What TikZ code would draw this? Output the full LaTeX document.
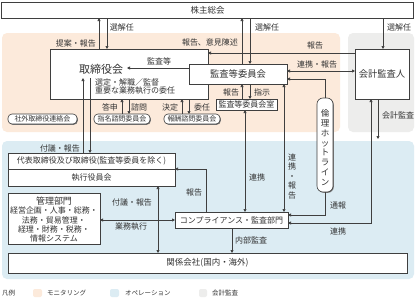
\documentclass[tikz,border=0pt]{standalone}
\usepackage{fontspec}
\setmainfont{Noto Sans CJK JP}
\usetikzlibrary{arrows.meta,shadows}
\definecolor{orgbg}{HTML}{FCEADB}
\definecolor{blubg}{HTML}{DCECF3}
\definecolor{grybg}{HTML}{EDEDEC}
\definecolor{linec}{HTML}{3F3F3F}
\definecolor{txt}{HTML}{333333}
\tikzset{
  box/.style={draw=linec, line width=0.6pt, fill=white, inner sep=0pt, outer sep=0pt,
    general shadow={fill=black!55, shadow xshift=0.8pt, shadow yshift=-0.8pt},
    font=\fontsize{8}{9.6}\selectfont, text=txt},
  rbox/.style={box, rounded corners=4pt, font=\fontsize{7}{8}\selectfont},
  lbl/.style={font=\fontsize{8}{9.6}\selectfont, text=txt, inner sep=0pt},
  leg/.style={font=\fontsize{6.5}{7.5}\selectfont, text=txt, inner sep=0pt, anchor=west},
  region/.style={rounded corners=5pt, draw=none},
  ar/.style={draw=linec, line width=0.7pt, -{Triangle[length=3pt,width=3pt]}},
  dar/.style={draw=linec, line width=0.7pt, {Triangle[length=3pt,width=3pt]}-{Triangle[length=3pt,width=3pt]}},
  ln/.style={draw=linec, line width=0.7pt}
}
\begin{document}
\begin{tikzpicture}[x=1pt,y=-1pt]
\useasboundingbox[fill=white] (0,0) rectangle (416,303);
% regions
\fill[orgbg, region] (2,33) rectangle (340,132);
\fill[grybg, region] (348,33) rectangle (414,132);
\fill[blubg, region] (2,141) rectangle (414,279);

% boxes
\node[box, minimum width=412pt, minimum height=16pt, font=\fontsize{8.5}{10}\selectfont] (kabu) at (207.5,10) {株主総会};
\node[box, minimum width=158pt, minimum height=50pt] (bod) at (129,74) {};
\node[lbl, font=\fontsize{11}{13}\selectfont] (bodt) at (101,69) {取締役会};
\node[lbl, anchor=west] (bodl1) at (95,82) {選定・解職／監督};
\node[lbl, anchor=west] (bodl2) at (95,91) {重要な業務執行の委任};
\node[box, minimum width=98pt, minimum height=20pt, font=\fontsize{9.3}{11}\selectfont] (ac) at (238,74) {監査等委員会};
\node[box, minimum width=54pt, minimum height=50pt, font=\fontsize{9.3}{11}\selectfont] (ca) at (382,74) {会計監査人};
\node[box, minimum width=61pt, minimum height=11pt] (acr) at (246.5,104.5) {監査等委員会室};
\node[rbox, minimum width=69pt, minimum height=10pt] (ext) at (42.5,119) {社外取締役連絡会};
\node[rbox, minimum width=56pt, minimum height=10pt] (nom) at (122,119) {指名諮問委員会};
\node[rbox, minimum width=56pt, minimum height=10pt] (rem) at (192,119) {報酬諮問委員会};
\node[box, rounded corners=6pt, minimum width=16pt, minimum height=94pt] (hot) at (325,145) {};
\node[lbl, align=center, font=\fontsize{8.5}{9.9}\selectfont] (hott) at (325,147.5) {倫\\理\\ホ\\ッ\\ト\\ラ\\イ\\ン};
\node[box, minimum width=167pt, minimum height=33pt] (rep) at (91.5,169.5) {};
\draw[ln] (rep.west |- 0,169) -- (rep.east |- 0,169);
\node[lbl] (rept1) at (91.5,161) {代表取締役及び取締役(監査等委員を除く)};
\node[lbl] (rept2) at (91.5,177.5) {執行役員会};
\node[box, minimum width=92pt, minimum height=51pt] (mgmt) at (54,218.5) {};
\node[lbl, font=\fontsize{9}{10}\selectfont] (mg0) at (54,201) {管理部門};
\node[lbl] (mg1) at (54,210.5) {経営企画・人事・総務・};
\node[lbl] (mg2) at (54,220) {法務・貿易管理・};
\node[lbl] (mg3) at (54,229) {経理・財務・税務・};
\node[lbl] (mg4) at (54,238) {情報システム};
\node[box, minimum width=113pt, minimum height=16pt] (comp) at (231.5,220) {コンプライアンス・監査部門};
\node[box, minimum width=399pt, minimum height=20pt, font=\fontsize{8.5}{10}\selectfont] (aff) at (207.5,263) {関係会社(国内・海外)};

% free-end coordinates
\coordinate (bodtxt) at (127,68);
\coordinate (bodin1) at (83,78);
\coordinate (bodin2) at (90,78);
\coordinate (opsarea) at (378,139);

% arrows shareholders
\draw[ar] (99,0 |- bod.north) -- (99,0 |- kabu.south);
\draw[ar] (107,0 |- kabu.south) -- (107,0 |- bod.north);
\node[lbl] at (76,43) {提案・報告};
\node[lbl] at (122,27) {選解任};
\draw[ar] (242,0 |- ac.north) -- (242,0 |- kabu.south);
\draw[ar] (250,0 |- kabu.south) -- (250,0 |- ac.north);
\node[lbl] at (210,42) {報告、意見陳述};
\node[lbl] at (267,27) {選解任};
\draw[ar] (383,0 |- kabu.south) -- (383,0 |- ca.north);
\node[lbl] at (399,27) {選解任};

% accounting auditor links
\draw[ar] (ca.west |- 0,53) -- (bod.east |- 0,53);
\node[lbl] at (315,45) {報告};
\draw[dar] (ac.east |- 0,71) -- (ca.west |- 0,71);
\node[lbl] at (317,64) {連携・報告};
\draw[ar] (hot.north) -- (325,79) -- (ac.east |- 0,79);
\draw[ar] (ac.west |- 0,68) -- (bodtxt);
\node[lbl] at (159,61) {監査等};

% committees
\draw[ar] (122,0 |- nom.north) -- (122,0 |- bod.south);
\draw[ar] (129,0 |- bod.south) -- (129,0 |- nom.north);
\node[lbl] at (110,107) {答申};
\node[lbl] at (139,107) {諮問};
\draw[ar] (182,0 |- rem.north) -- (182,0 |- bod.south);
\draw[ar] (189,0 |- bod.south) -- (189,0 |- rem.north);
\node[lbl] at (170,107) {決定};
\node[lbl] at (202,107) {委任};
\draw[ar] (242,0 |- acr.north) -- (242,0 |- ac.south);
\draw[ar] (250,0 |- ac.south) -- (250,0 |- acr.north);
\node[lbl] at (231,92) {報告};
\node[lbl] at (262,92) {指示};

% to compliance
\draw[dar] (245,0 |- acr.south) -- (245,0 |- comp.north);
\node[lbl] at (257,177) {連携};
\draw[dar] (284,0 |- ac.south) -- (284,0 |- comp.north);
\node[lbl, align=center, font=\fontsize{8}{9.5}\selectfont] at (292,176) {連\\携\\・\\報\\告};

% representative directors
\draw[ar] (83,0 |- rep.north) -- (bodin1);
\draw[ar] (bodin2) -- (90,0 |- rep.north);
\node[lbl] at (60,148) {付議・報告};
\draw[ar] (206,0 |- comp.north) -- (206,169) -- (rep.east |- 0,169);
\node[lbl] at (194,192) {報告};
\draw[dar] (158,0 |- rep.south) -- (158,0 |- aff.north);
\node[lbl] at (132,202) {付議・報告};
\draw[dar] (mgmt.east |- 0,220) -- (comp.west |- 0,220);
\node[lbl] at (131,227) {業務執行};
\draw[ar] (232,0 |- comp.south) -- (232,0 |- aff.north);
\node[lbl] at (251,240) {内部監査};

% hotline & auditor to compliance
\draw[ar] (hot.south) -- (325,215) -- (comp.east |- 0,215);
\node[lbl] at (338,205) {通報};
\draw[dar] (comp.east |- 0,223) -- (371,223) -- (371,0 |- ca.south);
\node[lbl] at (338,231) {連携};
\draw[ar] (378,0 |- ca.south) -- (opsarea);
\node[lbl] at (398,115) {会計監査};

% legend
\node[leg] at (2,293) {凡例};
\fill[orgbg, rounded corners=2pt] (33,289) rectangle (42,297);
\node[leg] at (47,293) {モニタリング};
\fill[blubg, rounded corners=2pt] (110,289) rectangle (119,297);
\node[leg] at (125,293) {オペレーション};
\fill[grybg, rounded corners=2pt] (199,289) rectangle (207,297);
\node[leg] at (212,293) {会計監査};
\end{tikzpicture}
\end{document}
